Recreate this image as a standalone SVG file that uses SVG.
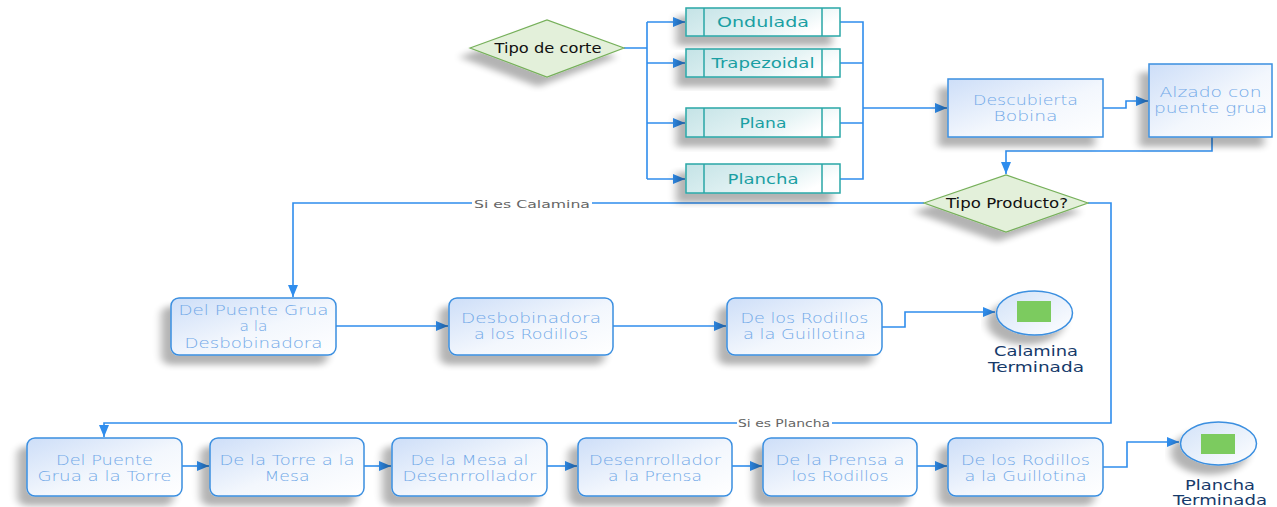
<svg xmlns="http://www.w3.org/2000/svg" width="1277" height="507" viewBox="0 0 1277 507">
<style>
.box{fill:url(#gBox);stroke:#3b8fe0;stroke-width:1.5;filter:url(#sh)}
.teal{fill:url(#gTeal);stroke:#2aa7a7;stroke-width:1.5;filter:url(#sh)}
.tealdiv{stroke:#2aa7a7;stroke-width:1.5;fill:none}
.dia{fill:#e3f0da;stroke:#76b05a;stroke-width:1.2;filter:url(#sh)}
.ell{fill:url(#gEll);stroke:#3b8fe0;stroke-width:1.5;filter:url(#sh)}
.grn{fill:#7ccb5f}
.bt{font-family:"DejaVu Sans","Liberation Sans",sans-serif;font-weight:200;font-size:13.5px;fill:#72a9e8;text-anchor:middle}
.tt{font-family:"DejaVu Sans","Liberation Sans",sans-serif;font-size:14.5px;fill:#1a9fa3;text-anchor:middle}
.dt{font-family:"DejaVu Sans","Liberation Sans",sans-serif;font-size:14px;fill:#111;text-anchor:middle}
.et{font-family:"DejaVu Sans","Liberation Sans",sans-serif;font-size:14.5px;fill:#163a6a;text-anchor:middle}
.lt{font-family:"DejaVu Sans","Liberation Sans",sans-serif;font-size:11px;fill:#666;text-anchor:middle}
.cn{fill:none;stroke:#2f8ded;stroke-width:1.6}
.ca{fill:none;stroke:#2f8ded;stroke-width:1.6;marker-end:url(#arr)}
</style>
<defs>
<linearGradient id="gBox" x1="0" y1="0" x2="1" y2="1">
<stop offset="0" stop-color="#cddef8"/><stop offset="0.55" stop-color="#f3f7fd"/><stop offset="1" stop-color="#ffffff"/>
</linearGradient>
<linearGradient id="gTeal" x1="0" y1="0" x2="1" y2="0.4">
<stop offset="0" stop-color="#c4e3e6"/><stop offset="0.7" stop-color="#e6f4f5"/><stop offset="1" stop-color="#ffffff"/>
</linearGradient>
<linearGradient id="gEll" x1="0" y1="0" x2="1" y2="1">
<stop offset="0" stop-color="#d2e2f8"/><stop offset="1" stop-color="#ffffff"/>
</linearGradient>
<filter id="sh" x="-20%" y="-20%" width="140%" height="170%">
<feGaussianBlur in="SourceAlpha" stdDeviation="4 3"/>
<feOffset dx="-9" dy="9" result="b"/>
<feComponentTransfer><feFuncA type="linear" slope="0.3"/></feComponentTransfer>
<feMerge><feMergeNode/><feMergeNode in="SourceGraphic"/></feMerge>
</filter>
<marker id="arr" markerWidth="12" markerHeight="10" refX="12" refY="5" orient="auto" markerUnits="userSpaceOnUse">
<path d="M0,0 L12,5 L0,10 z" fill="#2f8ded"/>
</marker>
</defs>

<g id="connectors">
<path class="cn" d="M624,48 H647 M647,22 V179"/>
<path class="ca" d="M647,22 H685"/>
<path class="ca" d="M647,63 H685"/>
<path class="ca" d="M647,123 H685"/>
<path class="ca" d="M647,179 H685"/>
<path class="cn" d="M840,22 H863 V179 H840 M840,63 H863 M840,123 H863"/>
<path class="ca" d="M863,108 H947"/>
<path class="ca" d="M1103,108 H1126 V101 H1148"/>
<path class="ca" d="M1212,137 V151 H1006 V174"/>
<path class="ca" d="M924,203 H293 V297"/>
<path class="ca" d="M1088,203 H1111 V423 H104 V437"/>
<path class="ca" d="M336,326 H448"/>
<path class="ca" d="M613,326 H726"/>
<path class="ca" d="M882,327 H905 V312 H995"/>
<path class="ca" d="M182,466 H209"/>
<path class="ca" d="M364,466 H391"/>
<path class="ca" d="M547,466 H577"/>
<path class="ca" d="M732,466 H762"/>
<path class="ca" d="M917,466 H947"/>
<path class="ca" d="M1103,467 H1127 V442 H1179"/>
<rect x="472" y="197" width="120" height="14" fill="#fff"/>
<text class="lt" x="532" y="208" textLength="116" lengthAdjust="spacingAndGlyphs">Si es Calamina</text>
<rect x="737" y="416" width="95" height="14" fill="#fff"/>
<text class="lt" x="784" y="427" textLength="92" lengthAdjust="spacingAndGlyphs">Si es Plancha</text>
</g>

<g id="tipo-corte">
<polygon class="dia" points="470,48 547,20 624,48 547,77"/>
<text class="dt" x="548" y="53" textLength="107" lengthAdjust="spacingAndGlyphs">Tipo de corte</text>
</g>

<g id="ondulada">
<rect class="teal" x="686" y="8" width="154" height="28"/>
<path class="tealdiv" d="M704,8 V36 M822,8 V36"/>
<text class="tt" x="763" y="27" textLength="92" lengthAdjust="spacingAndGlyphs">Ondulada</text>
</g>
<g id="trapezoidal">
<rect class="teal" x="686" y="49" width="154" height="28"/>
<path class="tealdiv" d="M704,49 V77 M822,49 V77"/>
<text class="tt" x="763" y="68" textLength="103" lengthAdjust="spacingAndGlyphs">Trapezoidal</text>
</g>
<g id="plana">
<rect class="teal" x="686" y="108" width="154" height="29"/>
<path class="tealdiv" d="M704,108 V137 M822,108 V137"/>
<text class="tt" x="763" y="128" textLength="47" lengthAdjust="spacingAndGlyphs">Plana</text>
</g>
<g id="plancha">
<rect class="teal" x="686" y="164" width="154" height="29"/>
<path class="tealdiv" d="M704,164 V193 M822,164 V193"/>
<text class="tt" x="763" y="184" textLength="71" lengthAdjust="spacingAndGlyphs">Plancha</text>
</g>

<g id="descubierta">
<rect class="box" x="948" y="79" width="155" height="58"/>
<text class="bt" x="1025.5" y="105" textLength="105" lengthAdjust="spacingAndGlyphs">Descubierta</text>
<text class="bt" x="1025.5" y="121" textLength="64" lengthAdjust="spacingAndGlyphs">Bobina</text>
</g>
<g id="alzado">
<rect class="box" x="1149" y="64" width="123" height="73"/>
<text class="bt" x="1210.5" y="97" textLength="102" lengthAdjust="spacingAndGlyphs">Alzado con</text>
<text class="bt" x="1210.5" y="113" textLength="113" lengthAdjust="spacingAndGlyphs">puente grua</text>
</g>

<g id="tipo-producto">
<polygon class="dia" points="924,203 1006,175 1088,203 1006,232"/>
<text class="dt" x="1007" y="208" textLength="122" lengthAdjust="spacingAndGlyphs">Tipo Producto?</text>
</g>

<g id="r2b1">
<rect class="box" x="171" y="298" width="165" height="57" rx="8"/>
<text class="bt" x="253.5" y="315" textLength="150" lengthAdjust="spacingAndGlyphs">Del Puente Grua</text>
<text class="bt" x="253.5" y="331" textLength="28" lengthAdjust="spacingAndGlyphs">a la</text>
<text class="bt" x="253.5" y="348" textLength="138" lengthAdjust="spacingAndGlyphs">Desbobinadora</text>
</g>
<g id="r2b2">
<rect class="box" x="449" y="298" width="164" height="57" rx="8"/>
<text class="bt" x="531" y="323" textLength="140" lengthAdjust="spacingAndGlyphs">Desbobinadora</text>
<text class="bt" x="531" y="339" textLength="114" lengthAdjust="spacingAndGlyphs">a los Rodillos</text>
</g>
<g id="r2b3">
<rect class="box" x="727" y="298" width="155" height="57" rx="8"/>
<text class="bt" x="804.5" y="323" textLength="128" lengthAdjust="spacingAndGlyphs">De los Rodillos</text>
<text class="bt" x="804.5" y="339" textLength="123" lengthAdjust="spacingAndGlyphs">a la Guillotina</text>
</g>
<g id="calamina-terminada">
<ellipse class="ell" cx="1034.5" cy="313" rx="38" ry="22"/>
<rect class="grn" x="1017" y="301" width="34" height="21"/>
<text class="et" x="1036" y="356" textLength="84" lengthAdjust="spacingAndGlyphs">Calamina</text>
<text class="et" x="1036" y="372" textLength="96" lengthAdjust="spacingAndGlyphs">Terminada</text>
</g>

<g id="r3b1">
<rect class="box" x="27" y="438" width="155" height="58" rx="8"/>
<text class="bt" x="104.5" y="465" textLength="97" lengthAdjust="spacingAndGlyphs">Del Puente</text>
<text class="bt" x="104.5" y="481" textLength="134" lengthAdjust="spacingAndGlyphs">Grua a la Torre</text>
</g>
<g id="r3b2">
<rect class="box" x="210" y="438" width="154" height="58" rx="8"/>
<text class="bt" x="287" y="465" textLength="135" lengthAdjust="spacingAndGlyphs">De la Torre a la</text>
<text class="bt" x="287" y="481" textLength="45" lengthAdjust="spacingAndGlyphs">Mesa</text>
</g>
<g id="r3b3">
<rect class="box" x="392" y="438" width="155" height="58" rx="8"/>
<text class="bt" x="469.5" y="465" textLength="118" lengthAdjust="spacingAndGlyphs">De la Mesa al</text>
<text class="bt" x="469.5" y="481" textLength="134" lengthAdjust="spacingAndGlyphs">Desenrrollador</text>
</g>
<g id="r3b4">
<rect class="box" x="578" y="438" width="154" height="58" rx="8"/>
<text class="bt" x="655" y="465" textLength="132" lengthAdjust="spacingAndGlyphs">Desenrrollador</text>
<text class="bt" x="655" y="481" textLength="94" lengthAdjust="spacingAndGlyphs">a la Prensa</text>
</g>
<g id="r3b5">
<rect class="box" x="763" y="438" width="154" height="58" rx="8"/>
<text class="bt" x="840" y="465" textLength="129" lengthAdjust="spacingAndGlyphs">De la Prensa a</text>
<text class="bt" x="840" y="481" textLength="97" lengthAdjust="spacingAndGlyphs">los Rodillos</text>
</g>
<g id="r3b6">
<rect class="box" x="948" y="438" width="155" height="58" rx="8"/>
<text class="bt" x="1025.5" y="465" textLength="129" lengthAdjust="spacingAndGlyphs">De los Rodillos</text>
<text class="bt" x="1025.5" y="481" textLength="122" lengthAdjust="spacingAndGlyphs">a la Guillotina</text>
</g>
<g id="plancha-terminada">
<ellipse class="ell" cx="1218.5" cy="443.5" rx="38" ry="21.5"/>
<rect class="grn" x="1201" y="434" width="34" height="20"/>
<text class="et" x="1220" y="490" textLength="70" lengthAdjust="spacingAndGlyphs">Plancha</text>
<text class="et" x="1220" y="505" textLength="94" lengthAdjust="spacingAndGlyphs">Terminada</text>
</g>
</svg>
